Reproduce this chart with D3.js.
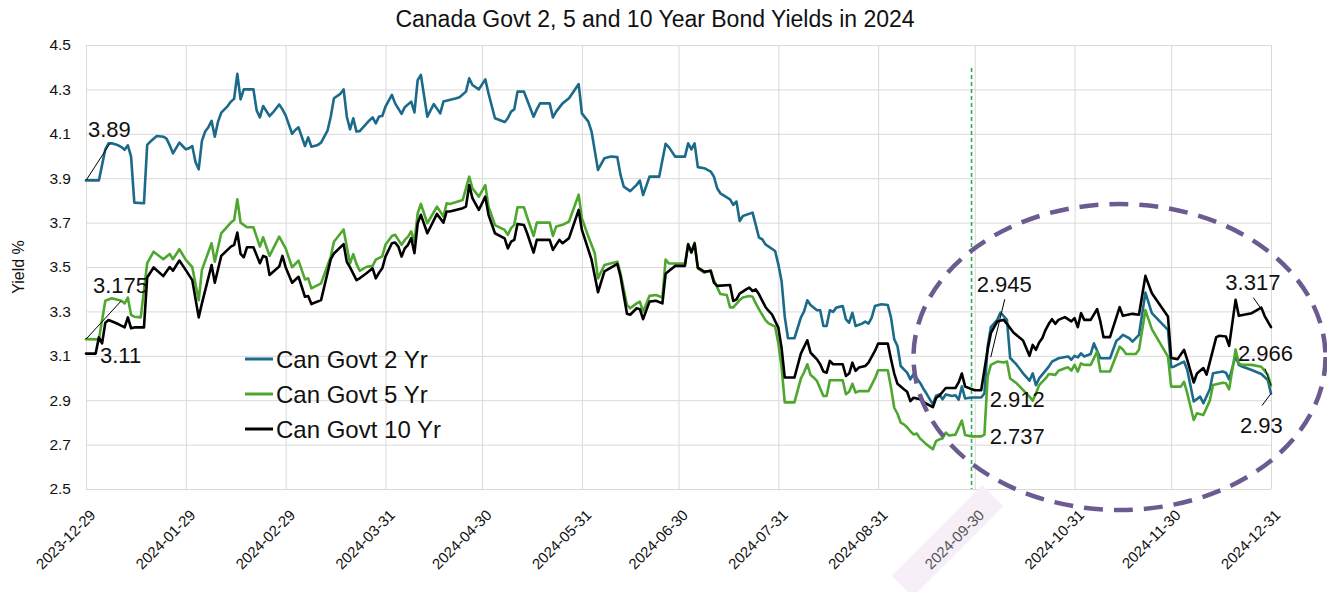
<!DOCTYPE html>
<html>
<head>
<meta charset="utf-8">
<script src="https://cdn.jsdelivr.net/npm/d3@7"></script>
<style>
  html, body { margin: 0; padding: 0; background: #ffffff; }
  svg { display: block; font-family: "Liberation Sans", Arial, Helvetica, sans-serif; }
</style>
</head>
<body>
<svg id="chart" width="1327" height="592"></svg>
<script>
// ---- data -------------------------------------------------------------
const chartTitle = "Canada Govt 2, 5 and 10 Year Bond Yields in 2024";
const yAxisTitle = "Yield %";
const seriesNames = ["Can Govt 2 Yr", "Can Govt 5 Yr", "Can Govt 10 Yr"];
const xTickDates = ["2023-12-29", "2024-01-29", "2024-02-29", "2024-03-31", "2024-04-30",
  "2024-05-31", "2024-06-30", "2024-07-31", "2024-08-31", "2024-09-30",
  "2024-10-31", "2024-11-30", "2024-12-31"];
const yTicks = [2.5, 2.7, 2.9, 3.1, 3.3, 3.5, 3.7, 3.9, 4.1, 4.3, 4.5];
const highlightedTick = "2024-09-30";
const markerDate = "2024-09-29";

const yield2Yr = [
  ["2023-12-29",3.890],["2024-01-02",3.890],["2024-01-03",3.960],["2024-01-04",4.030],["2024-01-05",4.057],
  ["2024-01-06",4.057],["2024-01-08",4.048],["2024-01-09",4.040],["2024-01-10",4.028],["2024-01-11",4.048],
  ["2024-01-12",3.997],["2024-01-13",3.790],["2024-01-16",3.787],["2024-01-17",4.050],["2024-01-18",4.065],
  ["2024-01-20",4.090],["2024-01-22",4.087],["2024-01-23",4.078],["2024-01-24",4.048],["2024-01-25",4.012],
  ["2024-01-27",4.060],["2024-01-28",4.045],["2024-01-29",4.030],["2024-01-30",4.035],["2024-01-31",4.045],
  ["2024-02-01",3.973],["2024-02-02",3.940],["2024-02-03",4.068],["2024-02-04",4.110],["2024-02-05",4.130],
  ["2024-02-06",4.158],["2024-02-07",4.087],["2024-02-08",4.155],["2024-02-09",4.195],["2024-02-11",4.225],
  ["2024-02-12",4.245],["2024-02-13",4.258],["2024-02-14",4.370],["2024-02-15",4.255],["2024-02-16",4.300],
  ["2024-02-19",4.300],["2024-02-20",4.205],["2024-02-21",4.174],["2024-02-22",4.225],["2024-02-24",4.180],
  ["2024-02-25",4.195],["2024-02-27",4.232],["2024-02-28",4.210],["2024-02-29",4.183],["2024-03-02",4.100],
  ["2024-03-03",4.117],["2024-03-04",4.129],["2024-03-06",4.045],["2024-03-07",4.084],["2024-03-08",4.042],
  ["2024-03-10",4.050],["2024-03-11",4.060],["2024-03-13",4.114],["2024-03-14",4.177],["2024-03-15",4.260],
  ["2024-03-17",4.280],["2024-03-18",4.300],["2024-03-19",4.177],["2024-03-20",4.120],["2024-03-21",4.170],
  ["2024-03-22",4.110],["2024-03-23",4.112],["2024-03-26",4.160],["2024-03-27",4.174],["2024-03-28",4.147],
  ["2024-03-29",4.178],["2024-03-30",4.180],["2024-03-31",4.222],["2024-04-02",4.275],["2024-04-03",4.237],
  ["2024-04-05",4.190],["2024-04-06",4.220],["2024-04-08",4.245],["2024-04-09",4.196],["2024-04-10",4.342],
  ["2024-04-11",4.365],["2024-04-13",4.177],["2024-04-15",4.234],["2024-04-17",4.192],["2024-04-18",4.245],
  ["2024-04-22",4.260],["2024-04-23",4.265],["2024-04-25",4.290],["2024-04-26",4.350],["2024-04-27",4.320],
  ["2024-04-29",4.300],["2024-05-01",4.345],["2024-05-02",4.282],["2024-05-04",4.170],["2024-05-07",4.153],
  ["2024-05-08",4.170],["2024-05-09",4.200],["2024-05-10",4.210],["2024-05-11",4.290],["2024-05-13",4.290],
  ["2024-05-14",4.252],["2024-05-16",4.177],["2024-05-17",4.210],["2024-05-18",4.237],["2024-05-21",4.237],
  ["2024-05-22",4.174],["2024-05-23",4.200],["2024-05-25",4.237],["2024-05-27",4.260],["2024-05-30",4.324],
  ["2024-05-31",4.192],["2024-06-02",4.155],["2024-06-03",4.110],["2024-06-05",3.937],["2024-06-07",3.990],
  ["2024-06-09",3.998],["2024-06-11",3.995],["2024-06-12",3.915],["2024-06-13",3.862],["2024-06-15",3.842],
  ["2024-06-17",3.870],["2024-06-18",3.889],["2024-06-19",3.824],["2024-06-21",3.907],["2024-06-24",3.907],
  ["2024-06-26",4.055],["2024-06-27",4.040],["2024-06-29",3.997],["2024-07-02",3.997],["2024-07-03",4.057],
  ["2024-07-04",4.030],["2024-07-05",4.057],["2024-07-06",3.950],["2024-07-08",3.945],["2024-07-10",3.930],
  ["2024-07-11",3.907],["2024-07-12",3.855],["2024-07-13",3.832],["2024-07-16",3.805],["2024-07-17",3.780],
  ["2024-07-18",3.795],["2024-07-19",3.707],["2024-07-20",3.730],["2024-07-23",3.745],["2024-07-24",3.690],
  ["2024-07-25",3.632],["2024-07-26",3.625],["2024-07-27",3.602],["2024-07-30",3.572],["2024-07-31",3.512],
  ["2024-08-01",3.437],["2024-08-02",3.276],["2024-08-03",3.179],["2024-08-05",3.179],["2024-08-07",3.272],
  ["2024-08-08",3.300],["2024-08-09",3.350],["2024-08-10",3.329],["2024-08-12",3.305],["2024-08-13",3.305],
  ["2024-08-14",3.234],["2024-08-15",3.234],["2024-08-16",3.305],["2024-08-17",3.298],["2024-08-18",3.317],
  ["2024-08-20",3.324],["2024-08-21",3.264],["2024-08-22",3.249],["2024-08-23",3.294],["2024-08-24",3.234],
  ["2024-08-26",3.245],["2024-08-27",3.254],["2024-08-28",3.245],["2024-08-29",3.272],["2024-08-30",3.324],
  ["2024-09-01",3.332],["2024-09-03",3.329],["2024-09-04",3.272],["2024-09-05",3.174],["2024-09-06",3.144],
  ["2024-09-07",3.054],["2024-09-08",3.039],["2024-09-09",3.024],["2024-09-10",2.994],["2024-09-11",3.018],
  ["2024-09-13",2.979],["2024-09-14",2.953],["2024-09-15",2.930],["2024-09-17",2.881],["2024-09-18",2.920],
  ["2024-09-19",2.926],["2024-09-20",2.904],["2024-09-21",2.926],["2024-09-23",2.919],["2024-09-24",2.922],
  ["2024-09-25",2.902],["2024-09-26",2.962],["2024-09-27",2.908],["2024-09-29",2.912],["2024-09-30",2.912],
  ["2024-10-02",2.912],["2024-10-03",2.930],["2024-10-04",3.142],["2024-10-05",3.229],["2024-10-07",3.262],
  ["2024-10-08",3.295],["2024-10-10",3.262],["2024-10-11",3.090],["2024-10-13",3.060],["2024-10-15",3.021],
  ["2024-10-17",2.988],["2024-10-18",3.021],["2024-10-19",2.968],["2024-10-20",2.998],["2024-10-23",3.051],
  ["2024-10-24",3.074],["2024-10-26",3.089],["2024-10-29",3.097],["2024-10-30",3.082],["2024-10-31",3.100],
  ["2024-11-01",3.093],["2024-11-02",3.111],["2024-11-03",3.097],["2024-11-05",3.108],["2024-11-06",3.156],
  ["2024-11-08",3.089],["2024-11-11",3.089],["2024-11-13",3.168],["2024-11-14",3.179],["2024-11-15",3.194],
  ["2024-11-17",3.179],["2024-11-18",3.164],["2024-11-20",3.194],["2024-11-22",3.385],["2024-11-24",3.292],
  ["2024-11-29",3.217],["2024-11-30",3.049],["2024-12-01",3.052],["2024-12-04",3.074],["2024-12-05",3.036],
  ["2024-12-07",2.894],["2024-12-09",2.916],["2024-12-10",2.886],["2024-12-12",2.949],["2024-12-13",3.021],
  ["2024-12-16",3.029],["2024-12-17",3.024],["2024-12-18",2.994],["2024-12-20",3.099],["2024-12-21",3.059],
  ["2024-12-22",3.052],["2024-12-25",3.036],["2024-12-28",3.018],["2024-12-30",2.991],["2024-12-31",2.930]
];

const yield5Yr = [
  ["2023-12-29",3.175],["2024-01-02",3.174],["2024-01-04",3.348],["2024-01-06",3.359],["2024-01-09",3.348],
  ["2024-01-10",3.336],["2024-01-11",3.362],["2024-01-12",3.284],["2024-01-13",3.276],["2024-01-15",3.273],
  ["2024-01-17",3.517],["2024-01-19",3.569],["2024-01-22",3.535],["2024-01-24",3.559],["2024-01-25",3.535],
  ["2024-01-27",3.580],["2024-01-29",3.532],["2024-01-31",3.499],["2024-02-02",3.350],["2024-02-03",3.487],
  ["2024-02-06",3.607],["2024-02-07",3.524],["2024-02-09",3.652],["2024-02-12",3.700],["2024-02-13",3.712],
  ["2024-02-14",3.805],["2024-02-15",3.700],["2024-02-17",3.679],["2024-02-19",3.679],["2024-02-21",3.592],
  ["2024-02-22",3.634],["2024-02-24",3.550],["2024-02-27",3.637],["2024-02-29",3.584],["2024-03-02",3.499],
  ["2024-03-04",3.529],["2024-03-06",3.444],["2024-03-07",3.449],["2024-03-08",3.404],["2024-03-11",3.426],
  ["2024-03-14",3.547],["2024-03-15",3.614],["2024-03-18",3.669],["2024-03-19",3.590],["2024-03-20",3.516],
  ["2024-03-21",3.558],["2024-03-22",3.513],["2024-03-23",3.483],["2024-03-25",3.500],["2024-03-27",3.505],
  ["2024-03-28",3.533],["2024-03-30",3.548],["2024-03-31",3.600],["2024-04-02",3.640],["2024-04-03",3.645],
  ["2024-04-04",3.622],["2024-04-05",3.600],["2024-04-06",3.622],["2024-04-07",3.637],["2024-04-08",3.660],
  ["2024-04-09",3.614],["2024-04-10",3.742],["2024-04-11",3.784],["2024-04-13",3.697],["2024-04-16",3.772],
  ["2024-04-17",3.750],["2024-04-18",3.727],["2024-04-19",3.787],["2024-04-20",3.784],["2024-04-24",3.802],
  ["2024-04-26",3.907],["2024-04-27",3.854],["2024-04-29",3.817],["2024-05-01",3.869],["2024-05-02",3.772],
  ["2024-05-04",3.689],["2024-05-07",3.667],["2024-05-08",3.645],["2024-05-09",3.675],["2024-05-10",3.690],
  ["2024-05-11",3.769],["2024-05-13",3.769],["2024-05-14",3.724],["2024-05-16",3.640],["2024-05-17",3.700],
  ["2024-05-21",3.700],["2024-05-22",3.640],["2024-05-23",3.682],["2024-05-25",3.690],["2024-05-27",3.705],
  ["2024-05-30",3.826],["2024-05-31",3.720],["2024-06-02",3.637],["2024-06-04",3.562],["2024-06-05",3.449],
  ["2024-06-07",3.509],["2024-06-11",3.524],["2024-06-12",3.471],["2024-06-14",3.329],["2024-06-15",3.314],
  ["2024-06-17",3.336],["2024-06-18",3.344],["2024-06-19",3.299],["2024-06-21",3.370],["2024-06-23",3.374],
  ["2024-06-25",3.363],["2024-06-26",3.534],["2024-06-27",3.516],["2024-06-29",3.516],["2024-07-02",3.516],
  ["2024-07-03",3.604],["2024-07-04",3.569],["2024-07-05",3.610],["2024-07-06",3.494],["2024-07-08",3.474],
  ["2024-07-10",3.486],["2024-07-11",3.440],["2024-07-13",3.378],["2024-07-15",3.374],["2024-07-16",3.318],
  ["2024-07-17",3.318],["2024-07-19",3.351],["2024-07-20",3.363],["2024-07-22",3.369],["2024-07-23",3.366],
  ["2024-07-24",3.336],["2024-07-25",3.309],["2024-07-27",3.261],["2024-07-28",3.246],["2024-07-30",3.231],
  ["2024-07-31",3.156],["2024-08-01",3.050],["2024-08-02",2.890],["2024-08-05",2.890],["2024-08-07",2.997],
  ["2024-08-08",3.026],["2024-08-09",3.062],["2024-08-10",3.014],["2024-08-11",3.002],["2024-08-12",2.987],
  ["2024-08-14",2.919],["2024-08-15",2.919],["2024-08-16",2.990],["2024-08-20",2.990],["2024-08-21",2.927],
  ["2024-08-22",2.938],["2024-08-23",2.974],["2024-08-24",2.934],["2024-08-25",2.941],["2024-08-28",2.941],
  ["2024-08-30",2.998],["2024-08-31",3.035],["2024-09-03",3.035],["2024-09-04",2.956],["2024-09-05",2.866],
  ["2024-09-06",2.839],["2024-09-07",2.799],["2024-09-08",2.791],["2024-09-09",2.778],["2024-09-10",2.760],
  ["2024-09-11",2.746],["2024-09-12",2.750],["2024-09-13",2.728],["2024-09-15",2.701],["2024-09-17",2.679],
  ["2024-09-18",2.716],["2024-09-19",2.724],["2024-09-20",2.728],["2024-09-21",2.754],["2024-09-22",2.741],
  ["2024-09-24",2.745],["2024-09-26",2.808],["2024-09-27",2.743],["2024-09-29",2.737],["2024-09-30",2.737],
  ["2024-10-02",2.737],["2024-10-03",2.745],["2024-10-04",3.006],["2024-10-05",3.059],["2024-10-07",3.074],
  ["2024-10-09",3.070],["2024-10-10",3.074],["2024-10-11",2.998],["2024-10-13",2.976],["2024-10-15",2.946],
  ["2024-10-17",2.916],["2024-10-18",2.898],["2024-10-19",2.930],["2024-10-20",2.968],["2024-10-22",2.998],
  ["2024-10-23",3.018],["2024-10-25",3.014],["2024-10-26",3.033],["2024-10-28",3.044],["2024-10-29",3.048],
  ["2024-10-30",3.033],["2024-10-31",3.059],["2024-11-01",3.029],["2024-11-02",3.066],["2024-11-03",3.059],
  ["2024-11-05",3.059],["2024-11-07",3.119],["2024-11-08",3.029],["2024-11-11",3.029],["2024-11-14",3.141],
  ["2024-11-15",3.128],["2024-11-16",3.108],["2024-11-19",3.108],["2024-11-20",3.127],["2024-11-22",3.306],
  ["2024-11-24",3.220],["2024-11-29",3.096],["2024-11-30",2.961],["2024-12-03",2.961],["2024-12-04",2.983],
  ["2024-12-05",2.931],["2024-12-07",2.811],["2024-12-08",2.841],["2024-12-10",2.833],["2024-12-12",2.898],
  ["2024-12-13",2.968],["2024-12-16",2.979],["2024-12-17",2.976],["2024-12-18",2.949],["2024-12-20",3.128],
  ["2024-12-21",3.066],["2024-12-22",3.059],["2024-12-25",3.059],["2024-12-28",3.051],["2024-12-30",3.014],
  ["2024-12-31",2.966]
];

const yield10Yr = [
  ["2023-12-29",3.110],["2024-01-01",3.110],["2024-01-02",3.183],["2024-01-03",3.156],["2024-01-04",3.249],
  ["2024-01-05",3.261],["2024-01-08",3.243],["2024-01-10",3.228],["2024-01-11",3.273],["2024-01-12",3.224],
  ["2024-01-13",3.228],["2024-01-16",3.228],["2024-01-17",3.453],["2024-01-19",3.498],["2024-01-22",3.459],
  ["2024-01-24",3.500],["2024-01-25",3.483],["2024-01-27",3.529],["2024-01-29",3.486],["2024-01-31",3.441],
  ["2024-02-02",3.273],["2024-02-03",3.336],["2024-02-06",3.509],["2024-02-07",3.429],["2024-02-09",3.550],
  ["2024-02-12",3.592],["2024-02-13",3.600],["2024-02-14",3.655],["2024-02-15",3.559],["2024-02-16",3.544],
  ["2024-02-17",3.589],["2024-02-19",3.589],["2024-02-21",3.517],["2024-02-22",3.550],["2024-02-23",3.544],
  ["2024-02-24",3.464],["2024-02-27",3.502],["2024-02-28",3.550],["2024-02-29",3.499],["2024-03-02",3.429],
  ["2024-03-04",3.456],["2024-03-06",3.366],["2024-03-07",3.369],["2024-03-08",3.333],["2024-03-11",3.351],
  ["2024-03-14",3.534],["2024-03-15",3.561],["2024-03-18",3.603],["2024-03-19",3.523],["2024-03-20",3.498],
  ["2024-03-22",3.441],["2024-03-23",3.449],["2024-03-25",3.471],["2024-03-27",3.494],["2024-03-28",3.449],
  ["2024-03-29",3.474],["2024-03-30",3.494],["2024-03-31",3.547],["2024-04-02",3.607],["2024-04-03",3.610],
  ["2024-04-04",3.592],["2024-04-05",3.547],["2024-04-06",3.584],["2024-04-07",3.600],["2024-04-08",3.630],
  ["2024-04-09",3.562],["2024-04-10",3.697],["2024-04-11",3.735],["2024-04-13",3.652],["2024-04-16",3.739],
  ["2024-04-18",3.700],["2024-04-19",3.750],["2024-04-20",3.750],["2024-04-24",3.765],["2024-04-25",3.772],
  ["2024-04-26",3.869],["2024-04-27",3.810],["2024-04-29",3.757],["2024-05-01",3.817],["2024-05-02",3.735],
  ["2024-05-04",3.652],["2024-05-07",3.629],["2024-05-08",3.584],["2024-05-09",3.614],["2024-05-10",3.622],
  ["2024-05-11",3.694],["2024-05-13",3.689],["2024-05-14",3.652],["2024-05-16",3.565],["2024-05-17",3.622],
  ["2024-05-21",3.622],["2024-05-22",3.577],["2024-05-24",3.622],["2024-05-25",3.607],["2024-05-27",3.630],
  ["2024-05-30",3.757],["2024-05-31",3.667],["2024-06-03",3.533],["2024-06-05",3.386],["2024-06-07",3.480],
  ["2024-06-11",3.514],["2024-06-12",3.457],["2024-06-14",3.289],["2024-06-15",3.285],["2024-06-17",3.314],
  ["2024-06-18",3.310],["2024-06-19",3.265],["2024-06-21",3.344],["2024-06-23",3.348],["2024-06-25",3.336],
  ["2024-06-26",3.470],["2024-06-27",3.482],["2024-06-29",3.505],["2024-07-02",3.505],["2024-07-03",3.602],
  ["2024-07-04",3.565],["2024-07-05",3.605],["2024-07-06",3.497],["2024-07-08",3.479],["2024-07-10",3.482],
  ["2024-07-11",3.430],["2024-07-12",3.415],["2024-07-16",3.419],["2024-07-17",3.347],["2024-07-18",3.354],
  ["2024-07-19",3.380],["2024-07-21",3.399],["2024-07-22",3.407],["2024-07-23",3.392],["2024-07-24",3.399],
  ["2024-07-25",3.377],["2024-07-27",3.320],["2024-07-28",3.302],["2024-07-29",3.287],["2024-07-31",3.227],
  ["2024-08-01",3.137],["2024-08-02",3.002],["2024-08-05",3.002],["2024-08-07",3.110],["2024-08-08",3.140],
  ["2024-08-09",3.170],["2024-08-10",3.114],["2024-08-11",3.099],["2024-08-12",3.084],["2024-08-13",3.062],
  ["2024-08-14",3.029],["2024-08-15",3.024],["2024-08-16",3.077],["2024-08-17",3.062],["2024-08-20",3.062],
  ["2024-08-21",3.009],["2024-08-22",3.020],["2024-08-23",3.069],["2024-08-24",3.032],["2024-08-25",3.047],
  ["2024-08-27",3.054],["2024-08-28",3.069],["2024-08-30",3.122],["2024-08-31",3.155],["2024-09-03",3.155],
  ["2024-09-04",3.084],["2024-09-05",3.020],["2024-09-06",2.974],["2024-09-08",2.949],["2024-09-09",2.938],
  ["2024-09-10",2.896],["2024-09-11",2.911],["2024-09-13",2.904],["2024-09-15",2.884],["2024-09-17",2.869],
  ["2024-09-18",2.910],["2024-09-19",2.920],["2024-09-21",2.955],["2024-09-24",2.955],["2024-09-25",2.980],
  ["2024-09-26",3.020],["2024-09-27",2.962],["2024-09-29",2.950],["2024-09-30",2.945],["2024-10-02",2.945],
  ["2024-10-04",3.127],["2024-10-05",3.202],["2024-10-06",3.229],["2024-10-07",3.254],["2024-10-09",3.262],
  ["2024-10-10",3.244],["2024-10-12",3.205],["2024-10-15",3.169],["2024-10-17",3.100],["2024-10-18",3.149],
  ["2024-10-19",3.127],["2024-10-20",3.160],["2024-10-21",3.180],["2024-10-22",3.217],["2024-10-23",3.244],
  ["2024-10-24",3.265],["2024-10-25",3.244],["2024-10-26",3.262],["2024-10-28",3.274],["2024-10-30",3.255],
  ["2024-10-31",3.270],["2024-11-01",3.229],["2024-11-02",3.292],["2024-11-03",3.262],["2024-11-05",3.262],
  ["2024-11-07",3.310],["2024-11-08",3.255],["2024-11-09",3.184],["2024-11-11",3.184],["2024-11-14",3.319],
  ["2024-11-15",3.280],["2024-11-18",3.289],["2024-11-20",3.285],["2024-11-22",3.460],["2024-11-24",3.382],
  ["2024-11-29",3.277],["2024-11-30",3.090],["2024-12-02",3.085],["2024-12-04",3.127],["2024-12-05",3.082],
  ["2024-12-07",2.980],["2024-12-08",3.020],["2024-12-10",3.045],["2024-12-11",3.015],["2024-12-14",3.184],
  ["2024-12-15",3.190],["2024-12-17",3.187],["2024-12-18",3.145],["2024-12-20",3.352],["2024-12-21",3.280],
  ["2024-12-25",3.292],["2024-12-28",3.317],["2024-12-29",3.280],["2024-12-31",3.229]
];

// value call-outs: which series and date each one points at
const calloutTexts  = ["3.89", "3.175", "3.11", "2.945", "2.912", "2.737", "3.317", "2.966", "2.93"];
const calloutSeries = [0, 1, 2, 2, 0, 1, 2, 1, 0];
const calloutDates  = ["2023-12-29", "2023-12-29", "2023-12-29", "2024-09-30", "2024-09-30",
                       "2024-09-30", "2024-12-28", "2024-12-31", "2024-12-31"];

// ---- layout & style ---------------------------------------------------
const W = 1327, H = 592;
const plot = { left: 86, right: 1271, top: 45, bottom: 489 };
const colors = ["#1c6a8a", "#4ea72e", "#000000"];
const gridColor = "#d9d9d9";
const textColor = "#111111";
const xLabelShift = "translate(10,27) rotate(-45)";
// call-out label offsets (text position and leader line, relative to the point)
const calloutLayout = [
  { dx: 2,   dy: -43, line: [[0, 0], [24, -37]] },
  { dx: 7,   dy: -46, line: [[0, 0], [35, -38]] },
  { dx: 14,  dy: 9,   line: null },
  { dx: 2,   dy: -98, line: [[30, -91], [16, -33]] },
  { dx: 15,  dy: 9,   line: null },
  { dx: 15,  dy: 8,   line: null },
  { dx: -36, dy: -18, line: [[-8, -10], [-1, 0]] },
  { dx: -33, dy: -25, line: [[-6, -17], [0, 0]] },
  { dx: -31, dy: 39,  line: [[-9, 12], [0, 0]] }
];

const parseDate = d3.utcParse("%Y-%m-%d");
const fmtDate = d3.utcFormat("%Y-%m-%d");
const allSeries = [yield2Yr, yield5Yr, yield10Yr];

const svg = d3.select("#chart");
svg.append("rect").attr("width", W).attr("height", H).attr("fill", "#ffffff");

const x = d3.scaleUtc()
  .domain([parseDate(xTickDates[0]), parseDate(xTickDates[xTickDates.length - 1])])
  .range([plot.left, plot.right]);
const y = d3.scaleLinear().domain([2.5, 4.5]).range([plot.bottom, plot.top]);

// title
svg.append("text")
  .attr("x", 655).attr("y", 27)
  .attr("text-anchor", "middle")
  .attr("font-size", 23)
  .attr("fill", textColor)
  .text(chartTitle);

// y axis with horizontal gridlines
const yAxis = svg.append("g")
  .attr("transform", `translate(${plot.left},0)`)
  .call(d3.axisLeft(y).tickValues(yTicks).tickFormat(d3.format(".1f"))
    .tickSize(-(plot.right - plot.left)).tickPadding(15));
yAxis.select(".domain").remove();
yAxis.selectAll(".tick line").attr("stroke", gridColor).attr("stroke-width", 1);
yAxis.selectAll(".tick text")
  .attr("font-size", 15.5).attr("fill", textColor)
  .attr("font-family", "Liberation Sans, Arial, sans-serif");

// x axis with vertical gridlines and slanted date labels
const xAxis = svg.append("g")
  .attr("transform", `translate(0,${plot.bottom})`)
  .call(d3.axisBottom(x).tickValues(xTickDates.map(parseDate)).tickFormat(fmtDate)
    .tickSize(-(plot.bottom - plot.top)));
xAxis.select(".domain").remove();
xAxis.selectAll(".tick line").attr("stroke", gridColor).attr("stroke-width", 1);
xAxis.selectAll(".tick text")
  .attr("x", 0).attr("y", 0).attr("dy", 0)
  .attr("text-anchor", "end")
  .attr("font-size", 15)
  .attr("font-family", "Liberation Sans, Arial, sans-serif")
  .attr("fill", d => fmtDate(d) === highlightedTick ? "#555555" : textColor)
  .attr("transform", xLabelShift);

// soft highlight band behind one date label
xAxis.selectAll(".tick")
  .filter(d => fmtDate(d) === highlightedTick)
  .each(function () {
    const g = d3.select(this);
    const len = g.select("text").node().getComputedTextLength();
    g.insert("rect", "text")
      .attr("transform", xLabelShift)
      .attr("x", -len / 2 - 70).attr("y", -24)
      .attr("width", 128).attr("height", 30)
      .attr("fill", "#f6eff7");
  });

// y axis title
svg.append("text")
  .attr("transform", "translate(24,267) rotate(-90)")
  .attr("text-anchor", "middle")
  .attr("font-size", 16)
  .attr("fill", textColor)
  .text(yAxisTitle);

// dashed marker line
svg.append("line")
  .attr("x1", x(parseDate(markerDate))).attr("x2", x(parseDate(markerDate)))
  .attr("y1", 68).attr("y2", plot.bottom)
  .attr("stroke", "#22b24c").attr("stroke-width", 1.6)
  .attr("stroke-dasharray", "4,3");

// series lines
const line = d3.line()
  .x(d => x(parseDate(d[0])))
  .y(d => y(d[1]));
svg.append("g").selectAll("path")
  .data(allSeries)
  .join("path")
  .attr("d", line)
  .attr("fill", "none")
  .attr("stroke", (d, i) => colors[i])
  .attr("stroke-width", 2.6)
  .attr("stroke-linejoin", "round")
  .attr("stroke-linecap", "round");

// dashed ellipse around the fourth quarter
svg.append("ellipse")
  .attr("cx", 1119.5).attr("cy", 357)
  .attr("rx", 206).attr("ry", 153)
  .attr("fill", "none")
  .attr("stroke", "#6c5b91").attr("stroke-width", 4.5)
  .attr("stroke-dasharray", "19,11");

// value call-outs
const callouts = svg.append("g");
calloutTexts.forEach((txt, i) => {
  const series = allSeries[calloutSeries[i]];
  const pt = series.find(d => d[0] === calloutDates[i]);
  const px = x(parseDate(pt[0])), py = y(pt[1]);
  const lay = calloutLayout[i];
  if (lay.line) {
    callouts.append("line")
      .attr("x1", px + lay.line[0][0]).attr("y1", py + lay.line[0][1])
      .attr("x2", px + lay.line[1][0]).attr("y2", py + lay.line[1][1])
      .attr("stroke", "#000").attr("stroke-width", 1);
  }
  callouts.append("text")
    .attr("x", px + lay.dx).attr("y", py + lay.dy)
    .attr("font-size", 22)
    .attr("fill", textColor)
    .text(txt);
});

// legend
const legend = svg.append("g").attr("transform", "translate(245,359)");
seriesNames.forEach((name, i) => {
  const row = legend.append("g").attr("transform", `translate(0,${i * 35})`);
  row.append("line").attr("x1", 0).attr("x2", 28).attr("y1", 0).attr("y2", 0)
    .attr("stroke", colors[i]).attr("stroke-width", 3);
  row.append("text").attr("x", 31).attr("y", 8.5)
    .attr("font-size", 24).attr("fill", textColor).text(name);
});
</script>
</body>
</html>
